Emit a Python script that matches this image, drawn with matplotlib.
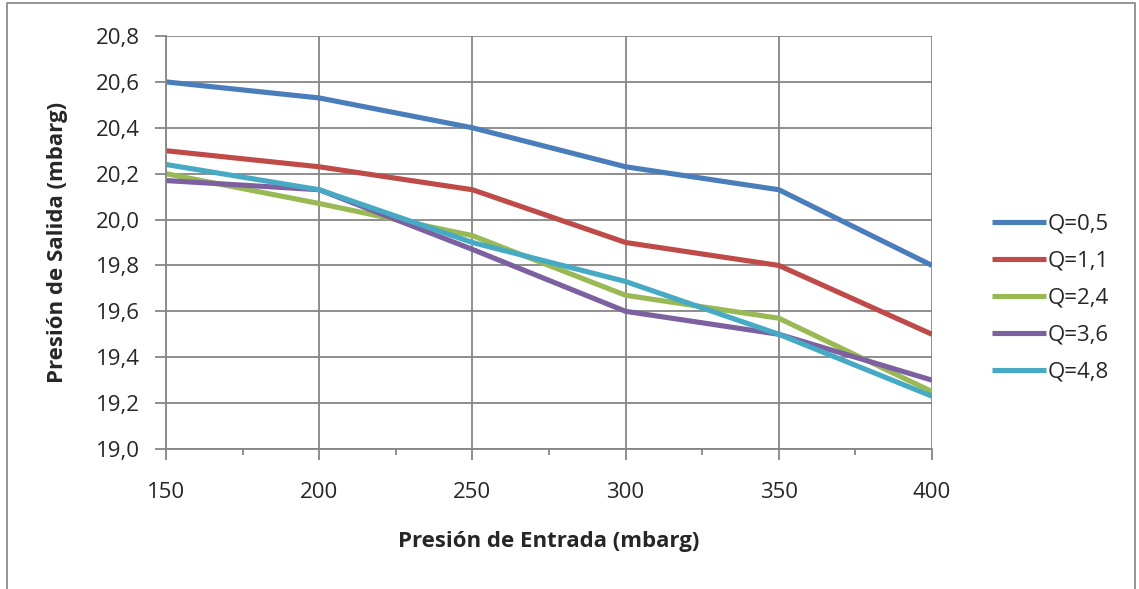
import matplotlib
matplotlib.use("Agg")
import matplotlib.pyplot as plt
from matplotlib.lines import Line2D
from matplotlib.ticker import FuncFormatter, MultipleLocator

plt.rcParams["font.family"] = ["Open Sans", "DejaVu Sans"]

# ---------------- data ----------------
presion_entrada = [150, 200, 250, 300, 350, 400]
series_labels = ["Q=0,5", "Q=1,1", "Q=2,4", "Q=3,6", "Q=4,8"]
q_05 = [20.60, 20.53, 20.40, 20.23, 20.13, 19.80]
q_11 = [20.30, 20.23, 20.13, 19.90, 19.80, 19.50]
q_24 = [20.20, 20.07, 19.93, 19.67, 19.57, 19.25]
q_36 = [20.17, 20.13, 19.87, 19.60, 19.50, 19.30]
q_48 = [20.24, 20.13, 19.90, 19.73, 19.50, 19.23]
series_colors = ["#4a7ebb", "#be4b48", "#98b954", "#7d60a0", "#46aac5"]

GRID = "#868686"
TEXT = "#262626"
W, H = 1139, 589

fig = plt.figure(figsize=(W / 100, H / 100), dpi=100)
fig.patch.set_facecolor("white")
ax = fig.add_axes([166 / W, 1 - 449 / H, (932 - 166) / W, (449 - 36) / H])

for vals, lab, col in zip([q_05, q_11, q_24, q_36, q_48], series_labels, series_colors):
    ax.plot(presion_entrada, vals, color=col, linewidth=3.7, label=lab,
            solid_capstyle="butt", solid_joinstyle="round")

ax.set_xlim(150, 400)
ax.set_ylim(19.0, 20.8)
ax.xaxis.set_major_locator(MultipleLocator(50))
ax.xaxis.set_minor_locator(MultipleLocator(25))
ax.yaxis.set_major_locator(MultipleLocator(0.2))
ax.yaxis.set_major_formatter(FuncFormatter(lambda v, p: f"{v:.1f}".replace(".", ",")))
ax.xaxis.set_major_formatter(FuncFormatter(lambda v, p: f"{v:.0f}"))

ax.grid(True, which="major", color=GRID, linewidth=1.3)
ax.set_axisbelow(True)
for s in ("top", "right"):
    ax.spines[s].set_visible(False)
for s in ("left", "bottom"):
    ax.spines[s].set_color(GRID)
    ax.spines[s].set_linewidth(1.3)

ax.tick_params(axis="both", which="major", direction="out", length=8, width=1.3,
               color=GRID, labelsize=16, labelcolor=TEXT)
ax.tick_params(axis="x", which="major", pad=16)
ax.tick_params(axis="y", which="major", pad=11)
ax.tick_params(axis="x", which="minor", direction="out", length=4, width=1.3, color=GRID)
ax.tick_params(axis="y", which="minor", length=0)

ax.set_xlabel("Presión de Entrada (mbarg)", fontsize=16, fontweight="bold",
              color=TEXT, labelpad=20)
ax.set_ylabel("Presión de Salida (mbarg)", fontsize=16, fontweight="bold",
              color=TEXT, labelpad=20)

leg = fig.legend(*ax.get_legend_handles_labels(), loc="center left",
                 bbox_to_anchor=(992 / W, 1 - 298 / H), frameon=False,
                 fontsize=16, handlelength=2.45, handletextpad=0.05,
                 labelspacing=0.72, borderpad=0, borderaxespad=0,
                 labelcolor=TEXT)

# outer chart frame (left, top, right edges)
fx = [7 / W, 7 / W, 1135 / W, 1135 / W]
fy = [0.0, 1 - 3 / H, 1 - 3 / H, 0.0]
fig.add_artist(Line2D(fx, fy, transform=fig.transFigure, color="#8c8c8c",
                      linewidth=1.3))

fig.savefig("out.png", dpi=100, facecolor=fig.get_facecolor())
